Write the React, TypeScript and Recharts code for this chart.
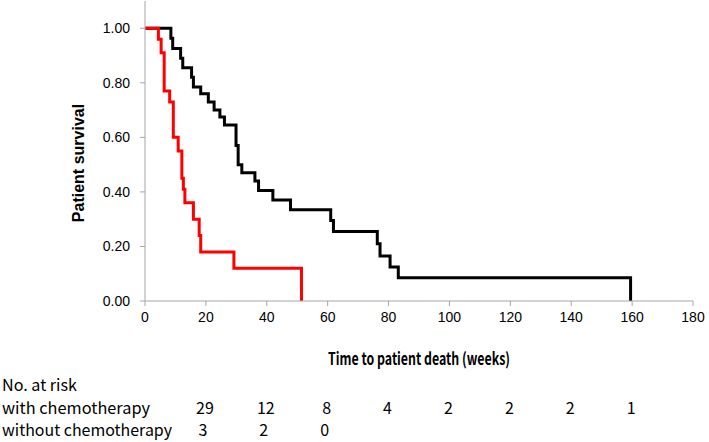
import { Line, LineChart, XAxis, YAxis } from 'recharts'

const xTicks = [0, 20, 40, 60, 80, 100, 120, 140, 160, 180]
const yTicks = [0, 0.2, 0.4, 0.6, 0.8, 1.0]

// Kaplan-Meier steps (weeks, survival after the step)
const withChemoTimes = [0, 8.5, 9.1, 11.7, 12.4, 15.3, 15.9, 18.3, 20.8, 22.7, 24.6, 26.1, 29.9, 30.6, 31.8, 36.1, 37.3, 42.0, 47.8, 61.0, 61.9, 76.3, 77.2, 80.5, 83.2, 159.5]
const withChemoSurvival = [1.0, 0.963, 0.926, 0.89, 0.855, 0.82, 0.785, 0.76, 0.73, 0.70, 0.675, 0.645, 0.57, 0.50, 0.47, 0.44, 0.405, 0.37, 0.335, 0.295, 0.255, 0.21, 0.165, 0.125, 0.085, 0]

const withoutChemoTimes = [0, 4.4, 5.3, 6.3, 8.1, 9.3, 10.9, 12.1, 12.6, 13.1, 15.9, 17.8, 18.3, 29.2, 51.4]
const withoutChemoSurvival = [1.0, 0.96, 0.91, 0.77, 0.73, 0.60, 0.55, 0.45, 0.41, 0.36, 0.30, 0.24, 0.18, 0.12, 0]

const riskTimes = [20, 40, 60, 80, 100, 120, 140, 160]
const riskWith = [29, 12, 8, 4, 2, 2, 2, 1]
const riskWithout = [3, 2, 0]

const W = 709
const H = 442
const plotLeft = 145
const plotRight = 693
const xMax = 180

const toX = (t: number) => plotLeft + (t / xMax) * (plotRight - plotLeft)

const withChemo = withChemoTimes.map((t, i) => ({ t, s: withChemoSurvival[i] }))
const withoutChemo = withoutChemoTimes.map((t, i) => ({ t, s: withoutChemoSurvival[i] }))

const axisColor = '#a6a6a6'
const tickFont = { fill: '#000', fontSize: 14, fontFamily: '"Liberation Sans", Arial, sans-serif' }
const tableFont = '"Noto Sans CJK JP", "Liberation Sans", sans-serif'

export default function App() {
  return (
    <div style={{ position: 'absolute', left: 0, top: 0, width: W, height: H, background: '#fff' }}>
      <LineChart width={W} height={H} margin={{ top: 1, right: W - plotRight, bottom: 111, left: 0 }}>
        <XAxis
          dataKey="t"
          type="number"
          domain={[0, xMax]}
          ticks={xTicks}
          allowDuplicatedCategory={false}
          height={30}
          stroke={axisColor}
          tickSize={5}
          tickMargin={6}
          tick={tickFont}
        />
        <YAxis
          type="number"
          domain={[0, 1.1]}
          ticks={yTicks}
          width={plotLeft}
          stroke={axisColor}
          tickSize={5}
          tickMargin={10}
          tick={tickFont}
          tickFormatter={(v: number) => v.toFixed(2)}
        />
        <Line
          data={withChemo}
          dataKey="s"
          type="stepAfter"
          stroke="#000"
          strokeWidth={3}
          dot={false}
          isAnimationActive={false}
        />
        <Line
          data={withoutChemo}
          dataKey="s"
          type="stepAfter"
          stroke="#ff0000"
          strokeWidth={3}
          dot={false}
          isAnimationActive={false}
        />
      </LineChart>

      <svg width={W} height={H} style={{ position: 'absolute', left: 0, top: 0, pointerEvents: 'none' }}>
        <text
          x={0}
          y={0}
          transform="translate(84 163) rotate(-90)"
          textAnchor="middle"
          fontFamily='"Liberation Sans", Arial, sans-serif'
          fontWeight="bold"
          fontSize={16}
        >
          Patient survival
        </text>
        <text
          x={419}
          y={365}
          textAnchor="middle"
          fontFamily={tableFont}
          fontWeight="bold"
          fontSize={17}
          textLength={182}
          lengthAdjust="spacingAndGlyphs"
        >
          Time to patient death (weeks)
        </text>
        <g fontFamily={tableFont} fontSize={16} fill="#000">
          <text x={2} y={391} textLength={75} lengthAdjust="spacingAndGlyphs">No. at risk</text>
          <text x={2} y={414} textLength={148} lengthAdjust="spacingAndGlyphs">with chemotherapy</text>
          <text x={2} y={436} textLength={170} lengthAdjust="spacingAndGlyphs">without chemotherapy</text>
          {riskWith.map((n, i) => (
            <text key={`w${i}`} x={toX(riskTimes[i]) - 1} y={414} textAnchor="middle">{n}</text>
          ))}
          {riskWithout.map((n, i) => (
            <text key={`o${i}`} x={toX(riskTimes[i]) - 3} y={436} textAnchor="middle">{n}</text>
          ))}
        </g>
      </svg>
    </div>
  )
}
